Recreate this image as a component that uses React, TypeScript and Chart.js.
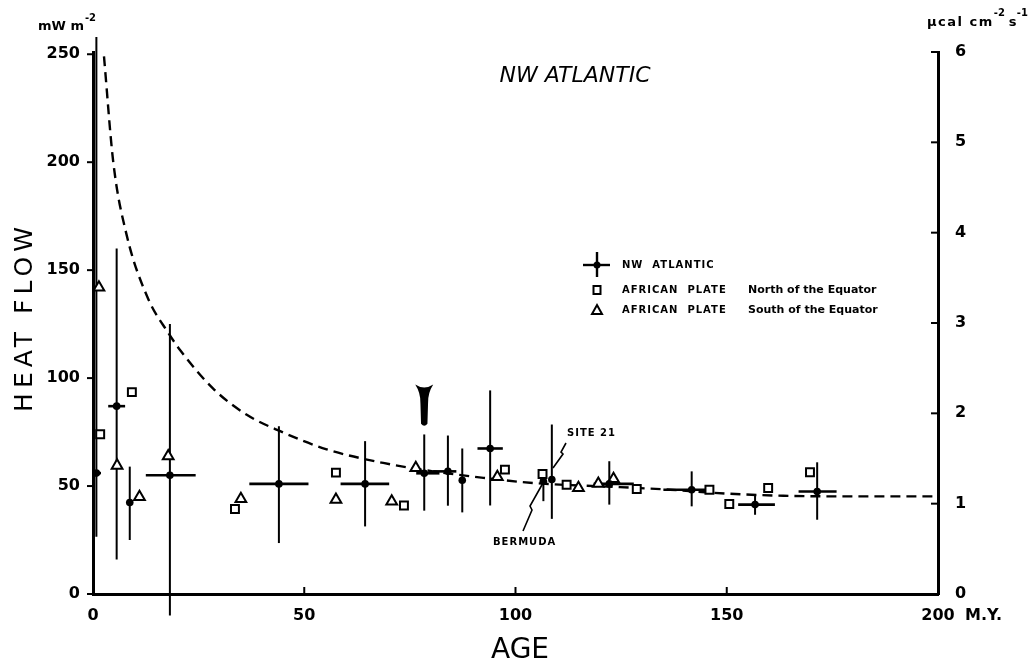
import React, { useEffect, useRef } from "react";
import { Chart, registerables } from "chart.js";

Chart.register(...registerables);

// ---------- axis ticks ----------
const xTicks = [0, 50, 100, 150, 200];
const yTicks = [0, 50, 100, 150, 200, 250];
const y2Ticks = [0, 1, 2, 3, 4, 5, 6];
const MW_PER_UCAL = 41.84;

// ---------- NW Atlantic (dot with error cross) ----------
const nwAge = [0.8, 5.6, 8.7, 18.2, 44, 64.4, 78.4, 84, 87.4, 94, 106.6, 108.6, 122.2, 141.7, 156.7, 171.4];
const nwHF = [56, 87, 42.4, 55, 51, 51, 55.9, 56.8, 52.7, 67.4, 52.2, 53, 51, 48.3, 41.4, 47.5];
const nwHFLow = [26.5, 16, 25, -10, 23.6, 31.3, 38.6, 40.9, 37.8, 41, 43, 34.8, 41.4, 40.6, 36.7, 34.4];
const nwHFHigh = [258, 160, 59, 125, 77.7, 70.8, 73.9, 73.4, 67.4, 94.3, 57, 78.5, 61.5, 56.8, 46, 61];
const nwAgeLow: (number | null)[] = [0.3, 3.6, null, 12.5, 37, 58.6, 76.5, 80.5, null, 91, null, null, 118.5, 135, 152.7, 167];
const nwAgeHigh: (number | null)[] = [1.9, 7.6, null, 24.3, 51, 70.1, 82, 86, null, 97, null, null, 128, 145.5, 161.4, 176];

// ---------- African plate, north of the equator (squares) ----------
const northAge = [1.7, 9.2, 33.6, 57.5, 73.6, 97.5, 106.4, 112.1, 128.7, 145.9, 150.6, 159.8, 169.7];
const northHF = [74, 93.5, 39.4, 56.2, 41, 57.6, 55.6, 50.6, 48.6, 48.3, 41.7, 49.1, 56.4];

// ---------- African plate, south of the equator (triangles) ----------
const southAge = [1.4, 5.7, 11, 17.8, 35, 57.5, 70.7, 76.4, 95.7, 114.9, 119.6, 123.2];
const southHF = [142, 59.5, 45, 63.8, 44, 43.7, 42.9, 58.4, 54.2, 49.1, 51.1, 53.3];

// ---------- dashed reference curve ----------
const curveAge = [2.6, 4.8, 8, 13, 17.8, 20.6, 28.5, 36.4, 44.3, 55.3, 68.7, 80.5, 92.4, 104.2, 124.7, 136.6, 150, 163.4, 179.2, 200];
const curveHF = [249, 200, 166, 137, 121, 113, 95, 83, 75.4, 67, 60.7, 56.8, 53.8, 51.4, 49.5, 48.3, 46.5, 45.5, 45.2, 45.2];

// ---------- annotation anchors (data units) ----------
const arrowMarkAge = 78.4;
const arrowMarkTopHF = 97;
const arrowMarkTipHF = 77.5;

const FONT = '"DejaVu Sans", "Liberation Sans", sans-serif';

function line(ctx: CanvasRenderingContext2D, x1: number, y1: number, x2: number, y2: number) {
  ctx.beginPath();
  ctx.moveTo(x1, y1);
  ctx.lineTo(x2, y2);
  ctx.stroke();
}

const errorBarPlugin = {
  id: "errorBars",
  beforeDatasetsDraw(chart: any) {
    const { ctx } = chart;
    const x = chart.scales.x;
    const y = chart.scales.y;
    ctx.save();
    ctx.strokeStyle = "#000";
    nwAge.forEach((a, i) => {
      const px = x.getPixelForValue(a);
      const py = y.getPixelForValue(nwHF[i]);
      ctx.lineWidth = 2;
      line(ctx, px, y.getPixelForValue(nwHFLow[i]), px, y.getPixelForValue(nwHFHigh[i]));
      const lo = nwAgeLow[i];
      const hi = nwAgeHigh[i];
      if (lo != null && hi != null) {
        ctx.lineWidth = 2.6;
        line(ctx, x.getPixelForValue(lo), py, x.getPixelForValue(hi), py);
      }
    });
    ctx.restore();
  },
};

const decorPlugin = {
  id: "decor",
  afterDraw(chart: any) {
    const { ctx } = chart;
    const x = chart.scales.x;
    const y = chart.scales.y;
    const y1 = chart.scales.y1;
    ctx.save();
    ctx.fillStyle = "#000";
    ctx.strokeStyle = "#000";

    // tick marks
    ctx.lineWidth = 2;
    xTicks.forEach((v) => {
      const px = x.getPixelForValue(v);
      line(ctx, px, x.top, px, x.top - 7);
    });
    yTicks.forEach((v) => {
      const py = y.getPixelForValue(v);
      line(ctx, y.right, py, y.right - 6, py);
    });
    y2Ticks.forEach((v) => {
      const py = y1.getPixelForValue(v);
      line(ctx, y1.left, py, y1.left - 7, py);
    });

    // arrowhead marker
    {
      const cx = x.getPixelForValue(arrowMarkAge);
      const yT = y.getPixelForValue(arrowMarkTopHF);
      const yB = y.getPixelForValue(arrowMarkTipHF);
      const h = yB - yT;
      ctx.beginPath();
      ctx.moveTo(cx - 9, yT);
      ctx.quadraticCurveTo(cx, yT + 6, cx + 9, yT);
      ctx.quadraticCurveTo(cx + 3.5, yT + h * 0.2, cx + 3.8, yT + h * 0.45);
      ctx.lineTo(cx + 3.2, yB - 3);
      ctx.quadraticCurveTo(cx, yB + 1, cx - 3.2, yB - 3);
      ctx.lineTo(cx - 3.8, yT + h * 0.45);
      ctx.quadraticCurveTo(cx - 3.5, yT + h * 0.2, cx - 9, yT);
      ctx.closePath();
      ctx.fill();
    }

    // text & legend, laid out in page coordinates (canvas == page)
    ctx.textBaseline = "middle";
    ctx.textAlign = "center";
    ctx.font = `italic 22px ${FONT}`;
    ctx.fillText("NW ATLANTIC", 575, 76);

    // unit labels
    ctx.textAlign = "left";
    ctx.font = `bold 13px ${FONT}`;
    ctx.fillText("mW m", 38, 27);
    let w = ctx.measureText("mW m").width;
    ctx.font = `bold 10px ${FONT}`;
    ctx.fillText("-2", 38 + w + 1, 18);

    ctx.font = `bold 13px ${FONT}`;
    (ctx as any).letterSpacing = "1.5px";
    ctx.fillText("\u00b5cal cm", 927, 23);
    w = ctx.measureText("\u00b5cal cm").width;
    (ctx as any).letterSpacing = "0px";
    ctx.font = `bold 10px ${FONT}`;
    ctx.fillText("-2", 927 + w, 13);
    ctx.font = `bold 13px ${FONT}`;
    ctx.fillText("s", 927 + w + 15, 23);
    ctx.font = `bold 10px ${FONT}`;
    ctx.fillText("-1", 927 + w + 23, 13);

    // M.Y.
    ctx.font = `bold 16px ${FONT}`;
    ctx.fillText("M.Y.", 965, 616);

    // axis titles
    ctx.textAlign = "center";
    ctx.font = `28px ${FONT}`;
    ctx.fillText("AGE", 520, 651);
    ctx.save();
    ctx.translate(25, 320);
    ctx.rotate(-Math.PI / 2);
    ctx.font = `25px ${FONT}`;
    (ctx as any).letterSpacing = "5px";
    ctx.fillText("HEAT FLOW", 3, 0);
    ctx.restore();

    // annotations
    ctx.textAlign = "left";
    ctx.font = `bold 10px ${FONT}`;
    (ctx as any).letterSpacing = "1px";
    ctx.fillText("SITE 21", 567, 433);
    ctx.fillText("BERMUDA", 493, 542);
    (ctx as any).letterSpacing = "0px";
    ctx.lineWidth = 1.6;
    ctx.beginPath();
    ctx.moveTo(566, 443);
    ctx.lineTo(561, 452);
    ctx.lineTo(563, 454);
    ctx.lineTo(553, 468);
    ctx.stroke();
    ctx.beginPath();
    ctx.moveTo(523, 531);
    ctx.lineTo(532, 510);
    ctx.lineTo(530, 506);
    ctx.lineTo(543, 483);
    ctx.stroke();

    // legend
    const lx = 590;
    const rows = [265, 290, 310];
    ctx.lineWidth = 2.4;
    line(ctx, lx - 7, rows[0], lx + 20, rows[0]);
    line(ctx, lx + 7, rows[0] - 13, lx + 7, rows[0] + 12);
    ctx.beginPath();
    ctx.arc(lx + 7, rows[0], 3.5, 0, Math.PI * 2);
    ctx.fill();
    ctx.lineWidth = 2;
    ctx.strokeRect(lx + 3.5, rows[1] - 4, 7, 8);
    ctx.beginPath();
    ctx.moveTo(lx + 7, rows[2] - 5);
    ctx.lineTo(lx + 12, rows[2] + 4);
    ctx.lineTo(lx + 2, rows[2] + 4);
    ctx.closePath();
    ctx.stroke();

    ctx.font = `bold 10px ${FONT}`;
    (ctx as any).letterSpacing = "1px";
    ctx.fillText("NW  ATLANTIC", 622, rows[0]);
    ctx.fillText("AFRICAN  PLATE", 622, rows[1]);
    ctx.fillText("AFRICAN  PLATE", 622, rows[2]);
    (ctx as any).letterSpacing = "0px";
    ctx.font = `bold 11px ${FONT}`;
    ctx.fillText("North of the Equator", 748, rows[1]);
    ctx.fillText("South of the Equator", 748, rows[2]);

    ctx.restore();
  },
};

export default function App() {
  const ref = useRef<HTMLCanvasElement | null>(null);

  useEffect(() => {
    if (!ref.current) return;
    const toXY = (xs: number[], ys: number[]) => xs.map((v, i) => ({ x: v, y: ys[i] }));
    const chart = new Chart(ref.current, {
      type: "scatter",
      data: {
        datasets: [
          {
            label: "curve",
            data: toXY(curveAge, curveHF),
            showLine: true,
            borderColor: "#000",
            borderWidth: 2.4,
            borderDash: [10, 6],
            pointRadius: 0,
            cubicInterpolationMode: "monotone",
            order: 4,
            yAxisID: "y",
          } as any,
          {
            label: "NW ATLANTIC",
            data: toXY(nwAge, nwHF),
            pointStyle: "circle",
            pointRadius: 3.8,
            backgroundColor: "#000",
            borderColor: "#000",
            borderWidth: 0,
            order: 0,
            yAxisID: "y",
          },
          {
            label: "AFRICAN PLATE North of the Equator",
            data: toXY(northAge, northHF),
            pointStyle: "rect",
            pointRadius: 5.6,
            backgroundColor: "#fff",
            borderColor: "#000",
            borderWidth: 2,
            order: 1,
            yAxisID: "y",
          },
          {
            label: "AFRICAN PLATE South of the Equator",
            data: toXY(southAge, southHF),
            pointStyle: "triangle",
            pointRadius: 6.2,
            backgroundColor: "#fff",
            borderColor: "#000",
            borderWidth: 2,
            order: 2,
            yAxisID: "y",
          },
        ],
      },
      options: {
        animation: false,
        responsive: true,
        maintainAspectRatio: false,
        layout: { padding: { top: 52, left: 0, right: 0, bottom: 0 } },
        plugins: { legend: { display: false }, tooltip: { enabled: false } },
        scales: {
          x: {
            type: "linear",
            min: 0,
            max: 200,
            afterBuildTicks: (s: any) => {
              s.ticks = xTicks.map((v) => ({ value: v }));
            },
            afterFit: (s: any) => {
              s.height = 77;
            },
            grid: { display: false, drawTicks: false },
            border: { display: true, color: "#000", width: 3 },
            ticks: {
              color: "#000",
              padding: 12,
              font: { family: FONT, size: 16, weight: "bold" },
              maxRotation: 0,
              autoSkip: false,
            },
          },
          y: {
            type: "linear",
            position: "left",
            min: 0,
            max: 6 * MW_PER_UCAL,
            afterBuildTicks: (s: any) => {
              s.ticks = yTicks.map((v) => ({ value: v }));
            },
            afterFit: (s: any) => {
              s.width = 93;
            },
            grid: { display: false, drawTicks: false },
            border: { display: true, color: "#000", width: 3 },
            ticks: {
              color: "#000",
              padding: 13,
              font: { family: FONT, size: 16, weight: "bold" },
              autoSkip: false,
            },
          },
          y1: {
            type: "linear",
            position: "right",
            min: 0,
            max: 6,
            afterBuildTicks: (s: any) => {
              s.ticks = y2Ticks.map((v) => ({ value: v }));
            },
            afterFit: (s: any) => {
              s.width = 90;
            },
            grid: { display: false, drawTicks: false },
            border: { display: true, color: "#000", width: 3 },
            ticks: {
              color: "#000",
              padding: 17,
              font: { family: FONT, size: 16, weight: "bold" },
              autoSkip: false,
            },
          },
        },
      } as any,
      plugins: [errorBarPlugin, decorPlugin],
    });
    return () => chart.destroy();
  }, []);

  return (
    <div style={{ position: "absolute", left: 0, top: 0, width: 1028, height: 671, background: "#fff" }}>
      <canvas ref={ref} />
    </div>
  );
}
